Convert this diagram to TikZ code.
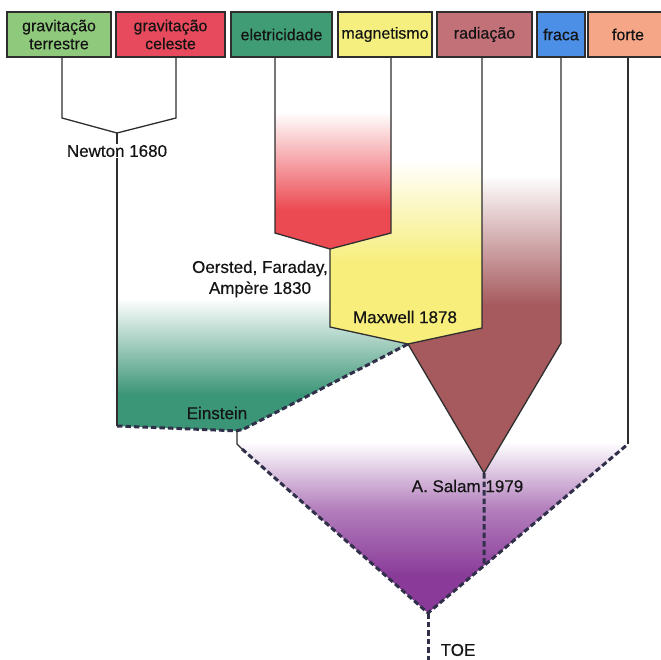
\documentclass[tikz,border=0pt]{standalone}
\usepackage{fontspec}
\setmainfont{Liberation Sans}[FakeBold=0.4]
\usetikzlibrary{calc}

% box colours
\definecolor{cTer}{HTML}{8FC97C}
\definecolor{cCel}{HTML}{E64A5C}
\definecolor{cEle}{HTML}{3F9C74}
\definecolor{cMag}{HTML}{F4EF7E}
\definecolor{cRad}{HTML}{C27179}
\definecolor{cFra}{HTML}{4B8FE6}
\definecolor{cFor}{HTML}{F4A687}
% region colours
\definecolor{redF}{HTML}{EC4A52}
\definecolor{yelF}{HTML}{F7EE7C}
\definecolor{brnF}{HTML}{A65A5E}
\definecolor{tealF}{HTML}{3B9577}
\definecolor{purF}{HTML}{8A3B99}
% strokes and text
\definecolor{lineC}{HTML}{2E2E2E}
\definecolor{dashC}{HTML}{30304A}
\definecolor{textC}{HTML}{141414}

\begin{document}
\begin{tikzpicture}[x=1pt,y=-1pt,
  box/.style={draw=lineC, line width=1.4pt, minimum height=45pt, inner sep=0pt,
    align=center, font=\fontsize{16}{18}\selectfont, text=textC},
  lbl/.style={font=\fontsize{17}{21}\selectfont, text=textC, inner sep=1pt, align=center},
  link/.style={draw=lineC, line width=1.3pt, line join=miter},
  dashline/.style={draw=dashC, line width=3pt, dash pattern=on 5.5pt off 3pt},
]
\useasboundingbox (0,0) rectangle (661,659);
\fill[white] (0,0) rectangle (661,659);

% key points of the tree
\coordinate (newtonJ) at (117,133);
\coordinate (newtonEnd) at (117,426);
\coordinate (redL) at (275,233);
\coordinate (redTip) at (330,249);
\coordinate (redR) at (391,233);
\coordinate (yelL) at (330,327);
\coordinate (maxTip) at (408,344);
\coordinate (yelR) at (482,328);
\coordinate (brR) at (561,343);
\coordinate (salTip) at (484,473);
\coordinate (einC) at (240,431);
\coordinate (purL) at (242,449);
\coordinate (toeTip) at (428,613);
\coordinate (forteEnd) at (628,444);
\coordinate (toeEnd) at (428,665);

% unification (purple) region
\begin{scope}
  \clip (237,438) -- (628,438) -- (forteEnd) -- (toeTip) -- (purL) -- (237,445) -- cycle;
  \shade[top color=white, bottom color=purF, middle color=purF!65] (230,442) rectangle (640,575);
  \fill[purF] (230,574.5) rectangle (640,620);
\end{scope}

% gravitation + electromagnetism (teal) region
\begin{scope}
  \clip (117,290) -- (330,290) -- (yelL) -- (maxTip) -- (einC) -- (newtonEnd) -- cycle;
  \shade[top color=white, bottom color=tealF] (110,298) rectangle (420,395);
  \fill[tealF] (110,394.5) rectangle (420,440);
\end{scope}

% electricity (red) region
\begin{scope}
  \clip (275,100) -- (391,100) -- (redR) -- (redTip) -- (redL) -- cycle;
  \shade[top color=white, bottom color=redF] (270,112) rectangle (395,210);
  \fill[redF] (270,209.5) rectangle (395,255);
\end{scope}

% magnetism (yellow) region
\begin{scope}
  \clip (391,150) -- (482,150) -- (yelR) -- (maxTip) -- (yelL) -- (redTip) -- (redR) -- cycle;
  \shade[top color=white, bottom color=yelF] (325,160) rectangle (490,262);
  \fill[yelF] (325,261.5) rectangle (490,350);
\end{scope}

% radiation (brown) region
\begin{scope}
  \clip (482,160) -- (561,160) -- (brR) -- (salTip) -- (maxTip) -- (yelR) -- cycle;
  \shade[top color=white, bottom color=brnF] (400,175) rectangle (570,305);
  \fill[brnF] (400,304.5) rectangle (570,480);
\end{scope}

% top row of boxes
\node[box, fill=cTer, minimum width=104pt] (b1) at (59,34.5) {gravitação\\terrestre};
\node[box, fill=cCel, minimum width=109pt] (b2) at (170.5,34.5) {gravitação\\celeste};
\node[box, fill=cEle, minimum width=101pt] (b3) at (281.5,34.5) {eletricidade};
\node[box, fill=cMag, minimum width=94pt] (b4) at (385,34.5) {magnetismo};
\node[box, fill=cRad, minimum width=95pt] (b5) at (484.5,34.5) {radiação};
\node[box, fill=cFra, minimum width=48pt] (b6) at (561,34.5) {fraca};
\node[box, fill=cFor, minimum width=80pt] (b7) at (628,34.5) {forte};

% labels
\node[lbl] (newton) at (117,151) {Newton 1680};
\node[lbl] (oersted) at (260,279) {Oersted, Faraday,\\Ampère 1830};
\node[lbl] (maxwell) at (405,317) {Maxwell 1878};
\node[lbl] (einstein) at (217,413) {Einstein};
\node[lbl] (salam) at (467.5,486) {A. Salam 1979};
\node[lbl] (toe) at (458,650) {TOE};

% gravitation branch
\draw[link] ([xshift=3pt]b1.south) -- (62,118) -- (newtonJ) -- (176,118) -- ([xshift=5.5pt]b2.south);
\draw[link] (newtonJ) -- (newton.north -| newtonJ);
\draw[link] (newton.south -| newtonJ) -- (newtonEnd);

% electricity and magnetism
\draw[link] ([xshift=-6.5pt]b3.south) -- (redL) -- (redTip) -- (redR) -- ([xshift=6pt]b4.south);
\draw[link] (redTip) -- (yelL) -- (maxTip) -- (yelR) -- ([xshift=-2.5pt]b5.south);

% radiation and weak force
\draw[link] (maxTip) -- (salTip) -- (brR) -- (b6.south);

% strong force
\draw[link] (b7.south) -- (forteEnd);

% Einstein's attempted unification
\draw[dashline, rounded corners=6pt] (newtonEnd) -- (einC) -- (maxTip);
\draw[link] (237,431) -- (237,444) -- (purL);

% towards a theory of everything
\draw[dashline] (purL) -- (toeTip) -- (forteEnd);
\draw[dashline] (salTip) -- ($(forteEnd)!0.72!(toeTip)$);
\draw[dashline] (toeTip) -- (toeEnd);

\end{tikzpicture}
\end{document}
